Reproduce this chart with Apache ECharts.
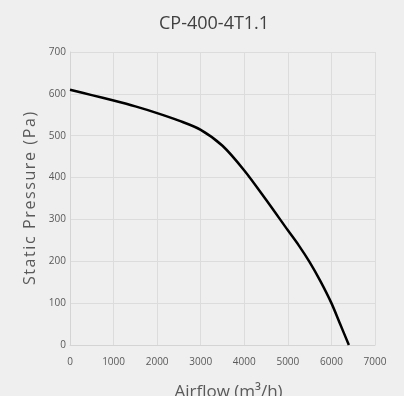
<!DOCTYPE html>
<html>
<head>
<meta charset="utf-8">
<script src="https://cdn.jsdelivr.net/npm/echarts@6/dist/echarts.min.js"></script>
<style>
  html, body { margin: 0; padding: 0; background: #efefef; }
  #chart { width: 404px; height: 396px; }
</style>
</head>
<body>
<div id="chart"></div>
<script>
// fan curve
const airflow = [0, 500, 1000, 1500, 2000, 2500, 3000, 3500, 4000, 4500, 5000, 5250, 5500, 5750, 6000, 6200, 6400];
const pressure = [610, 597, 584, 570, 554, 536, 514, 476, 417, 347, 274, 238, 198, 152, 100, 50, 0];

// the original name is letter-spaced, fake it with hair spaces
const yName = "Static Pressure (Pa)".split("").join("\u200A");

const chart = echarts.init(document.getElementById("chart"));
chart.setOption({
  backgroundColor: "#efefef",
  animation: false,
  title: {
    text: "CP-400-4T1.1",
    left: 154,
    top: 10,
    textStyle: { fontFamily: "Open Sans", fontSize: 18, fontWeight: "normal", color: "#404040" },
  },
  grid: { left: 70, right: 29, top: 52, bottom: 51, outerBoundsMode: "none" },
  xAxis: {
    type: "value",
    min: 0,
    max: 7000,
    interval: 1000,
    name: "Airflow (m³/h)",
    nameLocation: "middle",
    nameGap: 39,
    nameTextStyle: { fontFamily: "Open Sans", fontSize: 17, color: "#595959", padding: [0, 0, 0, 12] },
    axisLine: { lineStyle: { color: "#d4d4d4", width: 1 } },
    axisTick: { show: false },
    axisLabel: { fontFamily: "Open Sans", fontSize: 10, color: "#595959", margin: 12, formatter: (v) => String(v) },
    splitLine: { lineStyle: { color: "#dcdcdc", width: 1 } },
  },
  yAxis: {
    type: "value",
    min: 0,
    max: 700,
    interval: 100,
    name: yName,
    nameLocation: "middle",
    nameGap: 32,
    nameTextStyle: { fontFamily: "Open Sans", fontSize: 16, color: "#595959" },
    axisLine: { show: true, lineStyle: { color: "#d4d4d4", width: 1 } },
    axisTick: { show: false },
    axisLabel: { fontFamily: "Open Sans", fontSize: 10, color: "#595959", margin: 4 },
    splitLine: { lineStyle: { color: "#dcdcdc", width: 1 } },
  },
  series: [
    {
      type: "line",
      data: airflow.map((x, i) => [x, pressure[i]]),
      smooth: 0.3,
      showSymbol: false,
      lineStyle: { color: "#000", width: 2.5 },
    },
  ],
});
</script>
</body>
</html>
